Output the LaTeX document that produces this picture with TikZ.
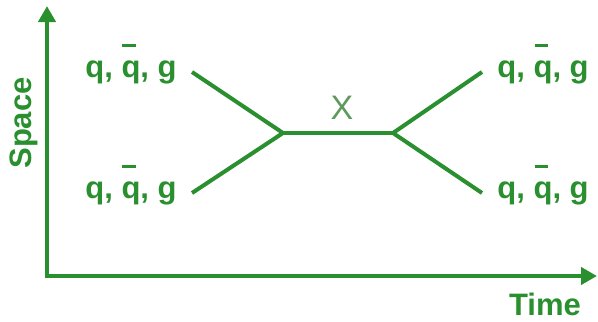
\documentclass[tikz,border=0pt]{standalone}
\usepackage{fontspec}
\setmainfont{Liberation Sans}
\usetikzlibrary{arrows.meta}
\definecolor{Leaf}{HTML}{2A8F2E}
\definecolor{Sage}{HTML}{5E9A5E}
\newcommand{\qbar}{\makebox[0pt][l]{\hspace{0.03em}\rule[0.98em]{0.45em}{0.1em}}q}
\tikzset{
  particle/.style={text=Leaf,font=\fontsize{15.5}{18}\selectfont\bfseries,inner xsep=7.5pt,inner ysep=2pt},
  axislabel/.style={text=Leaf,font=\fontsize{15.5}{18}\selectfont\bfseries,inner sep=0pt},
  prop/.style={draw=Leaf,line width=2pt},
  axis/.style={draw=Leaf,line width=2.4pt,{Triangle[length=8pt,width=8.5pt]}-{Triangle[length=8pt,width=8.5pt]}}
}

\begin{document}
\begin{tikzpicture}[x=0.5pt,y=-0.5pt]
  \useasboundingbox (0,0) rectangle (598,321);
  % axes
  \coordinate (origin) at (47,276);
  \coordinate (spaceEnd) at (47,6);
  \coordinate (timeEnd) at (597,276);
  \draw[axis] (spaceEnd) -- (origin) -- (timeEnd);
  \node[axislabel,rotate=90,anchor=base] (space) at (31,123) {Space};
  \node[axislabel,anchor=base] (time) at (545,315) {Time};
  % incoming and outgoing particles
  \node[particle,anchor=mid east] (inTop) at (192,72) {q, \qbar, g};
  \node[particle,anchor=mid east] (inBot) at (192,193) {q, \qbar, g};
  \node[particle,anchor=mid west] (outTop) at (482,72) {q, \qbar, g};
  \node[particle,anchor=mid west] (outBot) at (482,193) {q, \qbar, g};
  % vertices
  \coordinate (splitIn) at (283,133);
  \coordinate (splitOut) at (393,133);
  \node[text=Sage,font=\fontsize{17}{20}\selectfont,inner sep=0pt] (mediator) at (342,108) {X};
  \draw[prop] (inTop.mid east) -- (splitIn);
  \draw[prop] (inBot.mid east) -- (splitIn);
  \draw[prop] (splitIn) -- (splitOut);
  \draw[prop] (splitOut) -- (outTop.mid west);
  \draw[prop] (splitOut) -- (outBot.mid west);
\end{tikzpicture}
\end{document}
